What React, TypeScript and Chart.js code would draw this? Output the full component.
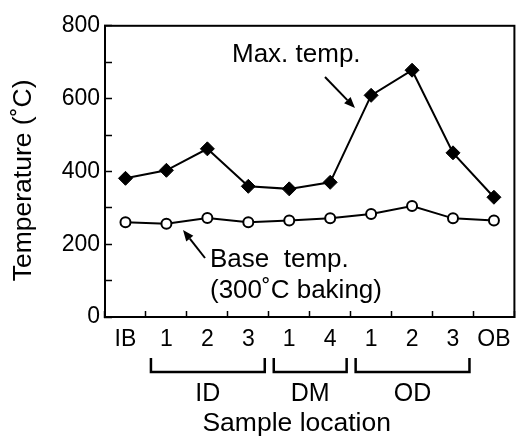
import React, { useEffect, useRef } from 'react';
import { Chart, registerables } from 'chart.js';

Chart.register(...registerables);

// ---- data ----
const categories = ['IB', '1', '2', '3', '1', '4', '1', '2', '3', 'OB'];
const maxTemp = [381, 403, 462, 359, 352, 370, 609, 678, 451, 329];
const baseTemp = [260, 256, 272, 260, 265, 271, 283, 305, 271, 265];
const groupLabels = ['ID', 'DM', 'OD'];
const groupFrom = [1, 4, 6];
const groupTo = [3, 5, 8];
const yMin = 0;
const yMax = 800;
const yStep = 100;
const yLabelStep = 200;

const FONT = '"Liberation Sans", Arial, Helvetica, sans-serif';

const decorPlugin = {
  id: 'decor',
  afterDraw(chart: any) {
    const ctx = chart.ctx;
    const { left, right, top, bottom } = chart.chartArea;
    const xs = chart.scales.x;
    ctx.save();
    // frame
    ctx.strokeStyle = '#000';
    ctx.lineWidth = 2;
    ctx.strokeRect(left, top, right - left, bottom - top);

    // group brackets + labels
    ctx.lineWidth = 2.5;
    ctx.fillStyle = '#000';
    ctx.font = `25px ${FONT}`;
    ctx.textAlign = 'center';
    ctx.textBaseline = 'middle';
    const bTop = bottom + 41;
    const bBot = bottom + 55;
    groupLabels.forEach((g, i) => {
      const x1 = xs.getPixelForValue(groupFrom[i] - 0.5) + 5;
      const x2 = xs.getPixelForValue(groupTo[i] + 0.5) - 4;
      ctx.beginPath();
      ctx.moveTo(x1, bTop);
      ctx.lineTo(x1, bBot);
      ctx.lineTo(x2, bBot);
      ctx.lineTo(x2, bTop);
      ctx.stroke();
      ctx.fillText(g, (x1 + x2) / 2, bottom + 77);
    });

    // axis titles
    ctx.font = `26.5px ${FONT}`;
    ctx.fillText('Sample location', (left + right) / 2 - 13, bottom + 107);
    ctx.save();
    ctx.translate(24, (top + bottom) / 2 + 9);
    ctx.rotate(-Math.PI / 2);
    ctx.fillText('Temperature (˚C)', 0, 0);
    ctx.restore();

    // annotations
    ctx.font = `26px ${FONT}`;
    ctx.textAlign = 'left';
    ctx.textBaseline = 'alphabetic';
    ctx.fillText('Max. temp.', 232, 62);
    ctx.fillText('Base  temp.', 210, 267);
    ctx.fillText('(300˚C baking)', 210, 298);

    const arrow = (x0: number, y0: number, x1: number, y1: number) => {
      const ang = Math.atan2(y1 - y0, x1 - x0);
      const hl = 11;
      const hw = 4.5;
      const bx = x1 - hl * Math.cos(ang);
      const by = y1 - hl * Math.sin(ang);
      ctx.lineWidth = 2;
      ctx.beginPath();
      ctx.moveTo(x0, y0);
      ctx.lineTo(bx, by);
      ctx.stroke();
      ctx.beginPath();
      ctx.moveTo(x1, y1);
      ctx.lineTo(bx + hw * Math.sin(ang), by - hw * Math.cos(ang));
      ctx.lineTo(bx - hw * Math.sin(ang), by + hw * Math.cos(ang));
      ctx.closePath();
      ctx.fill();
    };
    arrow(325, 77, 355, 108);
    arrow(205, 258, 183, 230);
    ctx.restore();
  },
};

export default function App() {
  const ref = useRef<HTMLCanvasElement | null>(null);
  useEffect(() => {
    if (!ref.current) return;
    const chart = new Chart(ref.current, {
      type: 'line',
      data: {
        labels: categories,
        datasets: [
          {
            label: 'Max. temp.',
            data: maxTemp,
            borderColor: '#000',
            backgroundColor: '#000',
            borderWidth: 2,
            pointStyle: 'rectRot',
            pointRadius: 7,
            pointBorderWidth: 1,
            tension: 0,
          },
          {
            label: 'Base temp.',
            data: baseTemp,
            borderColor: '#000',
            backgroundColor: '#fff',
            borderWidth: 2,
            pointStyle: 'circle',
            pointRadius: 5,
            pointBorderWidth: 2,
            tension: 0,
          },
        ],
      },
      options: {
        responsive: false,
        animation: false,
        layout: { padding: { left: 0, right: 9, top: 19, bottom: 0 } },
        plugins: {
          legend: { display: false },
          tooltip: { enabled: false },
        },
        scales: {
          x: {
            type: 'category',
            offset: true,
            grid: {
              offset: true,
              drawOnChartArea: false,
              tickLength: -6,
              tickWidth: 1.5,
              color: '#000',
            },
            border: { color: '#000', width: 2 },
            ticks: {
              color: '#000',
              font: { family: FONT, size: 23 },
              padding: 15,
              maxRotation: 0,
              autoSkip: false,
            },
            afterFit: (s: any) => {
              s.height = 125;
            },
          },
          y: {
            min: yMin,
            max: yMax,
            grid: {
              drawOnChartArea: false,
              tickLength: -7,
              tickWidth: 1.5,
              color: '#000',
            },
            border: { color: '#000', width: 2 },
            ticks: {
              stepSize: yStep,
              color: '#000',
              font: { family: FONT, size: 23 },
              padding: 12,
              callback: (v: any) => (Number(v) % yLabelStep === 0 ? String(v) : ''),
            },
            afterFit: (s: any) => {
              s.width = 105;
            },
          },
        },
      },
      plugins: [decorPlugin],
    });
    return () => chart.destroy();
  }, []);
  return (
    <div style={{ position: 'fixed', left: 0, top: 0, width: 526, height: 442, background: '#fff' }}>
      <canvas ref={ref} width={526} height={442} />
    </div>
  );
}
